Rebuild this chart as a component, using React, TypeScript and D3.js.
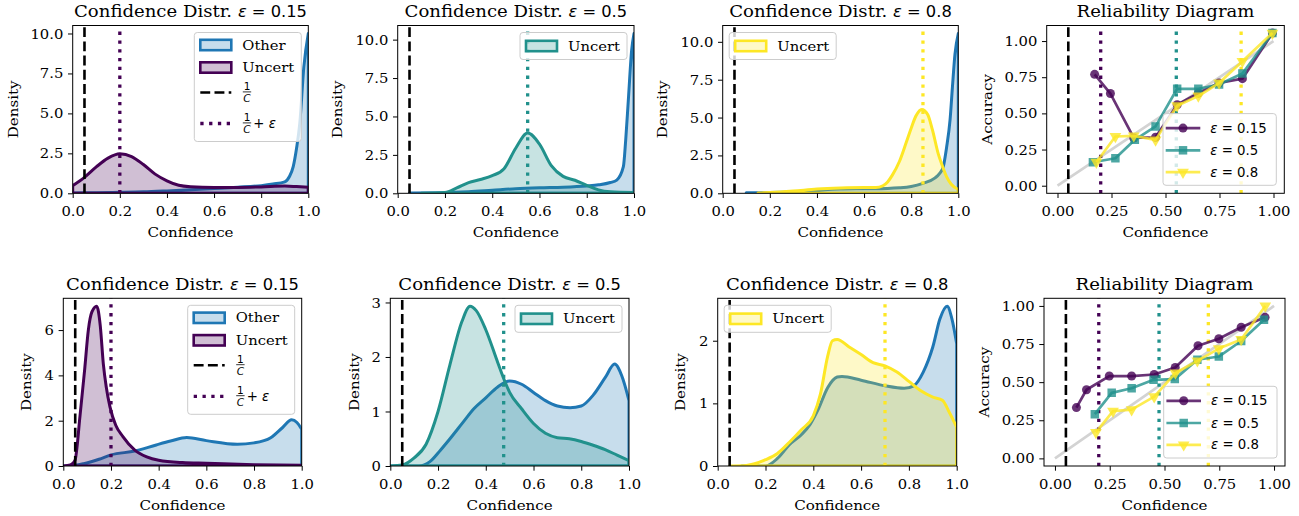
import React, { useEffect, useRef } from "react";
import * as d3 from "d3";

const SERIF = "'DejaVu Serif', serif";
const SANS = "'DejaVu Sans', sans-serif";
// the serif face here sets narrower than the reference's, so serif text is widened by this factor
const SERIF_WIDEN = 1.11;

const BLUE = "#1f77b4";
const EPS_COLORS = ["#440154", "#21918c", "#fde725"];
const epsLabels = ["0.15", "0.5", "0.8"];

const distTicks = [0, 0.2, 0.4, 0.6, 0.8, 1.0];
const relTicks = [0, 0.25, 0.5, 0.75, 1.0];
const topDensityTicks = [0, 2.5, 5, 7.5, 10];
const bottomDensityTicks = [[0, 2, 4, 6], [0, 1, 2, 3], [0, 1, 2]];

const oneOverC = 0.05;
const topThresholds = [0.2, 0.55, 0.85];
const bottomThresholds = [0.2, 0.475, 0.7];

// top row, eps = 0.15
const tOther015X = [0, 0.1, 0.2, 0.3, 0.4, 0.5, 0.6, 0.7, 0.8, 0.85, 0.9, 0.92, 0.936, 0.95, 0.964, 0.981, 1.0];
const tOther015Y = [0.02, 0.04, 0.06, 0.09, 0.15, 0.22, 0.3, 0.38, 0.48, 0.58, 0.72, 1.05, 1.67, 2.8, 4.4, 7.9, 10.0];
const tUnc015X = [0, 0.05, 0.1, 0.15, 0.2, 0.25, 0.3, 0.35, 0.4, 0.45, 0.5, 0.6, 0.7, 0.8, 0.9, 0.95, 1.0];
const tUnc015Y = [0.48, 1.0, 1.65, 2.2, 2.47, 2.3, 1.8, 1.2, 0.78, 0.5, 0.41, 0.37, 0.37, 0.4, 0.45, 0.42, 0.38];

// top row, eps = 0.5
const tOther05X = [0.05, 0.2, 0.3, 0.4, 0.5, 0.6, 0.7, 0.8, 0.85, 0.9, 0.927, 0.955, 0.965, 0.976, 0.99, 1.0];
const tOther05Y = [0.02, 0.04, 0.1, 0.2, 0.3, 0.36, 0.4, 0.48, 0.55, 0.7, 0.86, 1.73, 3.5, 6.06, 9.3, 10.4];
const tUnc05X = [0.1, 0.2, 0.25, 0.3, 0.35, 0.4, 0.45, 0.5, 0.55, 0.6, 0.65, 0.7, 0.75, 0.8, 0.85, 0.9, 1.0];
const tUnc05Y = [0.0, 0.05, 0.35, 0.7, 0.9, 1.15, 1.6, 2.95, 3.92, 3.2, 1.8, 1.1, 0.85, 0.52, 0.22, 0.1, 0.05];

// top row, eps = 0.8
const tOther08X = [0.1, 0.2, 0.3, 0.4, 0.5, 0.6, 0.7, 0.75, 0.8, 0.85, 0.9, 0.92, 0.936, 0.95, 0.965, 0.975, 0.986, 1.0];
const tOther08Y = [0.03, 0.05, 0.1, 0.2, 0.28, 0.3, 0.32, 0.36, 0.45, 0.66, 1.0, 1.3, 1.75, 3.0, 4.84, 7.0, 9.2, 10.55];
const tUnc08X = [0.15, 0.2, 0.3, 0.4, 0.5, 0.6, 0.65, 0.68, 0.7, 0.72, 0.75, 0.78, 0.8, 0.82, 0.845, 0.87, 0.89, 0.915, 0.935, 0.95, 0.97, 1.0];
const tUnc08Y = [0.02, 0.05, 0.15, 0.28, 0.35, 0.38, 0.38, 0.5, 0.75, 1.2, 2.1, 3.4, 4.3, 5.1, 5.54, 5.2, 4.2, 2.6, 1.7, 1.1, 0.6, 0.25];

// bottom row, eps = 0.15
const bOther015X = [0, 0.05, 0.085, 0.15, 0.2, 0.3, 0.39, 0.45, 0.518, 0.6, 0.73, 0.8, 0.87, 0.92, 0.958, 0.98, 1.0];
const bOther015Y = [0.0, 0.03, 0.1, 0.3, 0.49, 0.66, 0.93, 1.1, 1.26, 1.12, 0.96, 1.02, 1.25, 1.7, 2.04, 1.92, 1.62];
const bUnc015X = [0, 0.03, 0.049, 0.07, 0.09, 0.105, 0.12, 0.14, 0.155, 0.168, 0.18, 0.196, 0.22, 0.25, 0.3, 0.35, 0.4, 0.5, 0.6, 0.8, 1.0];
const bUnc015Y = [0.0, 0.05, 0.25, 2.2, 4.3, 6.0, 6.8, 7.05, 6.2, 4.5, 3.5, 2.6, 1.8, 1.3, 0.7, 0.4, 0.25, 0.15, 0.12, 0.06, 0.03];

// bottom row, eps = 0.5
const bOther05X = [0, 0.05, 0.12, 0.166, 0.21, 0.25, 0.306, 0.35, 0.4, 0.45, 0.5, 0.55, 0.6, 0.65, 0.7, 0.753, 0.8, 0.85, 0.9, 0.94, 0.97, 1.0];
const bOther05Y = [0.0, 0.0, 0.0, 0.08, 0.29, 0.5, 0.81, 1.05, 1.25, 1.45, 1.56, 1.5, 1.35, 1.2, 1.1, 1.07, 1.1, 1.3, 1.62, 1.87, 1.65, 1.2];
const bUnc05X = [0, 0.05, 0.1, 0.15, 0.2, 0.25, 0.3, 0.334, 0.36, 0.4, 0.45, 0.48, 0.5, 0.55, 0.6, 0.65, 0.7, 0.75, 0.8, 0.85, 0.9, 0.95, 1.0];
const bUnc05Y = [0.0, 0.02, 0.15, 0.4, 1.0, 1.86, 2.65, 2.93, 2.85, 2.5, 1.9, 1.55, 1.35, 1.05, 0.78, 0.6, 0.52, 0.5, 0.45, 0.38, 0.3, 0.2, 0.1];

// bottom row, eps = 0.8
const bOther08X = [0.1, 0.2, 0.25, 0.3, 0.35, 0.386, 0.42, 0.46, 0.5, 0.52, 0.6, 0.7, 0.78, 0.82, 0.86, 0.9, 0.93, 0.96, 0.98, 1.0];
const bOther08Y = [0.0, 0.0, 0.12, 0.34, 0.5, 0.66, 0.9, 1.25, 1.42, 1.43, 1.37, 1.28, 1.24, 1.28, 1.5, 1.9, 2.35, 2.55, 2.35, 1.95];
const bUnc08X = [0.05, 0.12, 0.2, 0.25, 0.3, 0.35, 0.4, 0.43, 0.46, 0.48, 0.5, 0.55, 0.6, 0.65, 0.7, 0.75, 0.8, 0.85, 0.9, 0.94, 0.97, 1.0];
const bUnc08Y = [0.0, 0.01, 0.1, 0.2, 0.38, 0.58, 0.8, 1.15, 1.75, 2.0, 2.02, 1.9, 1.78, 1.65, 1.6, 1.5, 1.35, 1.2, 1.1, 1.05, 0.85, 0.62];

// reliability diagram, top row
const relTopConf015 = [0.172, 0.245, 0.353, 0.454, 0.554, 0.652, 0.748, 0.856, 0.995];
const relTopAcc015 = [0.77, 0.637, 0.33, 0.335, 0.56, 0.64, 0.71, 0.74, 1.055];
const relTopConf05 = [0.164, 0.268, 0.358, 0.454, 0.554, 0.652, 0.748, 0.856, 0.995];
const relTopAcc05 = [0.162, 0.19, 0.317, 0.41, 0.67, 0.67, 0.7, 0.776, 1.055];
const relTopConf08 = [0.18, 0.268, 0.353, 0.454, 0.554, 0.652, 0.748, 0.856, 0.995];
const relTopAcc08 = [0.162, 0.34, 0.345, 0.317, 0.553, 0.62, 0.71, 0.86, 1.055];

// reliability diagram, bottom row
const relBotConf015 = [0.098, 0.144, 0.248, 0.35, 0.453, 0.549, 0.653, 0.748, 0.85, 0.959];
const relBotAcc015 = [0.333, 0.45, 0.54, 0.54, 0.55, 0.596, 0.739, 0.785, 0.86, 0.925];
const relBotConf05 = [0.182, 0.259, 0.35, 0.45, 0.547, 0.65, 0.748, 0.85, 0.954];
const relBotAcc05 = [0.29, 0.43, 0.46, 0.515, 0.52, 0.647, 0.668, 0.77, 0.91];
const relBotConf08 = [0.187, 0.265, 0.35, 0.453, 0.55, 0.65, 0.748, 0.85, 0.96];
const relBotAcc08 = [0.17, 0.31, 0.32, 0.405, 0.56, 0.64, 0.72, 0.78, 1.0];

const kdeRows = [
  [
    { ox: tOther015X, oy: tOther015Y, ux: tUnc015X, uy: tUnc015Y },
    { ox: tOther05X, oy: tOther05Y, ux: tUnc05X, uy: tUnc05Y },
    { ox: tOther08X, oy: tOther08Y, ux: tUnc08X, uy: tUnc08Y },
  ],
  [
    { ox: bOther015X, oy: bOther015Y, ux: bUnc015X, uy: bUnc015Y },
    { ox: bOther05X, oy: bOther05Y, ux: bUnc05X, uy: bUnc05Y },
    { ox: bOther08X, oy: bOther08Y, ux: bUnc08X, uy: bUnc08Y },
  ],
];
const relRows = [
  [[relTopConf015, relTopAcc015], [relTopConf05, relTopAcc05], [relTopConf08, relTopAcc08]],
  [[relBotConf015, relBotAcc015], [relBotConf05, relBotAcc05], [relBotConf08, relBotAcc08]],
];

// layout (pixels)
const rowTop = [25.5, 298.3];
const rowBottom = [193.3, 466];
const frameLeft = [[72.7, 397.7, 722.7, 1046.7], [63.3, 390.3, 717.7, 1044]];
const frameRight = [[308.3, 634, 958.3, 1284.3], [301.7, 629, 956.7, 1285]];
const yLabelX = [[15, 339, 664, 989], [27.5, 356, 682, 986]];

const TICK = 13.3;
const LABEL = 13.6;
const TITLE = 16.3;
const LEG = 13.3;

function App() {
  const ref = useRef<SVGSVGElement>(null);

  useEffect(() => {
    drawChart();
  }, []);

  function drawChart() {
    const svg = d3.select(ref.current);
    svg.selectAll("*").remove();
    svg.append("rect").attr("width", 1299).attr("height", 516).attr("fill", "white");

    function axes(g, x, y, xt, yt, xf, yf, r, c) {
      const top = rowTop[r], bottom = rowBottom[r], left = frameLeft[r][c], right = frameRight[r][c];
      const ax = g.append("g").attr("transform", `translate(0,${bottom})`)
        .call(d3.axisBottom(x).tickValues(xt).tickFormat(xf).tickSize(4.7).tickSizeOuter(0).tickPadding(4.7));
      const ay = g.append("g").attr("transform", `translate(${left},0)`)
        .call(d3.axisLeft(y).tickValues(yt).tickFormat(yf).tickSize(4.7).tickSizeOuter(0).tickPadding(4.7));
      [ax, ay].forEach((a) => {
        a.select(".domain").remove();
        a.selectAll("line").attr("stroke", "#000").attr("stroke-width", 1);
        a.selectAll("text").attr("font-family", SERIF).attr("font-size", TICK).attr("fill", "#000")
          .classed("serif", true);
      });
      ax.selectAll("text").attr("dy", "1em");
      ay.selectAll("text").attr("dy", "0.34em");
      g.append("rect").attr("x", left).attr("y", top).attr("width", right - left).attr("height", bottom - top)
        .attr("fill", "none").attr("stroke", "#000").attr("stroke-width", 1);
    }

    function serifText(sel) {
      return sel.attr("font-family", SERIF).classed("serif", true);
    }

    function labels(g, r, c, yl, title) {
      const top = rowTop[r], bottom = rowBottom[r], left = frameLeft[r][c], right = frameRight[r][c];
      const cx = (left + right) / 2;
      serifText(g.append("text").attr("x", cx).attr("y", bottom + 43.5).attr("text-anchor", "middle"))
        .attr("font-size", LABEL).text("Confidence");
      serifText(g.append("text").attr("transform", `translate(${yLabelX[r][c]},${(top + bottom) / 2}) rotate(-90)`)
        .attr("dy", "0.25em").attr("text-anchor", "middle"))
        .attr("font-size", LABEL).text(yl);

      const ty = top - 8.5;
      if (title) {
        const ts = g.append("text").attr("y", ty).attr("font-family", SERIF).attr("font-size", TITLE)
          .style("white-space", "pre").text("Confidence Distr. ");
        const tm = g.append("text").attr("y", ty).attr("font-family", SANS).attr("font-size", TITLE)
          .style("white-space", "pre");
        tm.append("tspan").attr("font-style", "italic").text("ε");
        tm.append("tspan").text(" = " + title);
        const ws = (ts.node() as SVGTextElement).getComputedTextLength() * SERIF_WIDEN;
        const wm = (tm.node() as SVGTextElement).getComputedTextLength();
        const x0 = cx - (ws + wm) / 2;
        ts.attr("x", x0).attr("textLength", ws).attr("lengthAdjust", "spacingAndGlyphs");
        tm.attr("x", x0 + ws);
      } else {
        serifText(g.append("text").attr("x", cx).attr("y", ty).attr("text-anchor", "middle"))
          .attr("font-size", TITLE).text("Reliability Diagram");
      }
    }

    function clip(g, id, r, c) {
      g.append("clipPath").attr("id", id).append("rect")
        .attr("x", frameLeft[r][c]).attr("y", rowTop[r])
        .attr("width", frameRight[r][c] - frameLeft[r][c]).attr("height", rowBottom[r] - rowTop[r]);
      return g.append("g").attr("clip-path", `url(#${id})`);
    }

    function vline(g, xv, y0, y1, color, dotted) {
      g.append("line").attr("x1", xv).attr("x2", xv).attr("y1", y0).attr("y2", y1)
        .attr("stroke", color)
        .attr("stroke-width", dotted ? 3.3 : 2.6)
        .attr("stroke-dasharray", dotted ? "3.3,5.5" : "9.9,4.3");
    }

    function legendBox(g, x, y, w, h) {
      g.append("rect").attr("x", x).attr("y", y).attr("width", w).attr("height", h).attr("rx", 3)
        .attr("fill", "white").attr("fill-opacity", 0.8).attr("stroke", "#cccccc").attr("stroke-width", 1);
    }

    function patchEntry(g, bx, ry, color, label) {
      g.append("rect").attr("x", bx + 6).attr("y", ry - 5.2).attr("width", 31).attr("height", 10.4)
        .attr("fill", color).attr("fill-opacity", 0.25).attr("stroke", color).attr("stroke-width", 2.6);
      serifText(g.append("text").attr("x", bx + 48).attr("y", ry).attr("dy", "0.35em"))
        .attr("font-size", LEG).text(label);
    }

    function fraction(g, fx, ry) {
      g.append("text").attr("x", fx + 4.2).attr("y", ry - 2.3).attr("text-anchor", "middle")
        .attr("font-family", SANS).attr("font-size", 10.5).text("1");
      g.append("line").attr("x1", fx).attr("x2", fx + 8.4).attr("y1", ry - 0.6).attr("y2", ry - 0.6)
        .attr("stroke", "#000").attr("stroke-width", 0.8);
      g.append("text").attr("x", fx + 4.2).attr("y", ry + 9.6).attr("text-anchor", "middle")
        .attr("font-family", SANS).attr("font-style", "italic").attr("font-size", 10.5).text("C");
    }

    // density panels
    kdeRows.forEach((row, r) => {
      row.forEach((p, c) => {
        const g = svg.append("g");
        const color = EPS_COLORS[c];
        const thr = (r === 0 ? topThresholds : bottomThresholds)[c];
        const ymax = 1.05 * (d3.max(p.oy.concat(p.uy)) as number);
        const x = d3.scaleLinear().domain([0, 1]).range([frameLeft[r][c], frameRight[r][c]]);
        const y = d3.scaleLinear().domain([0, ymax]).range([rowBottom[r], rowTop[r]]);
        const area = d3.area<[number, number]>()
          .x((d) => x(d[0])).y0(y(0)).y1((d) => y(d[1])).curve(d3.curveMonotoneX);

        const inner = clip(g, `clip-k-${r}-${c}`, r, c);
        const other = p.ox.map((v, i) => [v, p.oy[i]] as [number, number]);
        const unc = p.ux.map((v, i) => [v, p.uy[i]] as [number, number]);
        inner.append("path").attr("d", area(other)).attr("fill", BLUE).attr("fill-opacity", 0.25)
          .attr("stroke", BLUE).attr("stroke-width", 3).attr("stroke-linejoin", "round");
        inner.append("path").attr("d", area(unc)).attr("fill", color).attr("fill-opacity", 0.25)
          .attr("stroke", color).attr("stroke-width", 3).attr("stroke-linejoin", "round");
        vline(inner, x(oneOverC), rowBottom[r], rowTop[r], "#000", false);
        vline(inner, x(thr), rowBottom[r], rowTop[r], color, true);

        const yt = r === 0 ? topDensityTicks : bottomDensityTicks[c];
        const yf = r === 0 ? d3.format(".1f") : d3.format("d");
        axes(g, x, y, distTicks, yt, d3.format(".1f"), yf, r, c);
        labels(g, r, c, "Density", epsLabels[c]);

        // legend
        const top = rowTop[r] + 7;
        if (c === 0) {
          const bx = frameRight[r][c] - 7 - 107;
          legendBox(g, bx, top, 107, 109);
          patchEntry(g, bx, top + 12.5, BLUE, "Other");
          patchEntry(g, bx, top + 35, color, "Uncert");
          g.append("line").attr("x1", bx + 6).attr("x2", bx + 37).attr("y1", top + 60).attr("y2", top + 60)
            .attr("stroke", "#000").attr("stroke-width", 2.6).attr("stroke-dasharray", "9.9,4.3");
          fraction(g, bx + 48.5, top + 60);
          g.append("line").attr("x1", bx + 6).attr("x2", bx + 37).attr("y1", top + 91).attr("y2", top + 91)
            .attr("stroke", color).attr("stroke-width", 3.3).attr("stroke-dasharray", "3.3,5.5");
          fraction(g, bx + 48.5, top + 91);
          const pe = g.append("text").attr("x", bx + 59).attr("y", top + 91).attr("dy", "0.35em")
            .attr("font-family", SANS).attr("font-size", LEG).style("white-space", "pre");
          pe.append("tspan").text("+ ");
          pe.append("tspan").attr("font-style", "italic").text("ε");
        } else {
          const bx = c === 1 ? frameRight[r][c] - 7 - 107 : frameLeft[r][c] + 6.5;
          legendBox(g, bx, top, 107, 27);
          patchEntry(g, bx, top + 13.5, color, "Uncert");
        }
      });
    });

    // reliability panels
    const symbols = [d3.symbolCircle, d3.symbolSquare, d3.symbolTriangle];
    const symSize = [64, 72, 60];
    relRows.forEach((series, r) => {
      const c = 3;
      const g = svg.append("g");
      const x = d3.scaleLinear().domain([-0.05, 1.05]).range([frameLeft[r][c], frameRight[r][c]]);
      const yDom = r === 0 ? [-0.0525, 1.1075] : [-0.05, 1.05];
      const y = d3.scaleLinear().domain(yDom).range([rowBottom[r], rowTop[r]]);
      const thr = r === 0 ? topThresholds : bottomThresholds;
      const inner = clip(g, `clip-r-${r}`, r, c);
      const line = d3.line<[number, number]>().x((d) => x(d[0])).y((d) => y(d[1]));
      inner.append("path").attr("d", line([[0, 0], [1, 1]])).attr("stroke", "#d3d3d3")
        .attr("stroke-width", 2.7).attr("fill", "none");
      vline(inner, x(oneOverC), rowBottom[r], rowTop[r], "#000", false);
      thr.forEach((t, i) => vline(inner, x(t), rowBottom[r], rowTop[r], EPS_COLORS[i], true));
      series.forEach(([cf, ac], i) => {
        const pts = cf.map((v, k) => [v, ac[k]] as [number, number]);
        inner.append("path").attr("d", line(pts)).attr("fill", "none").attr("stroke", EPS_COLORS[i])
          .attr("stroke-opacity", 0.8).attr("stroke-width", 2.7).attr("stroke-linejoin", "round");
        inner.selectAll(null).data(pts).enter().append("path")
          .attr("d", d3.symbol().type(symbols[i]).size(symSize[i]))
          .attr("transform", (d) => `translate(${x(d[0])},${y(d[1])})${i === 2 ? " rotate(180)" : ""}`)
          .attr("fill", EPS_COLORS[i]).attr("fill-opacity", 0.8);
      });
      axes(g, x, y, relTicks, relTicks, d3.format(".2f"), d3.format(".2f"), r, c);
      labels(g, r, c, "Accuracy", null);

      const bw = 113.3, bh = 71.7;
      const bx = frameRight[r][c] - 8 - bw;
      const by = rowBottom[r] - 8 - bh;
      legendBox(g, bx, by, bw, bh);
      [14.5, 36.7, 58.5].forEach((dy, i) => {
        const ry = by + dy;
        g.append("line").attr("x1", bx + 2.7).attr("x2", bx + 37.3).attr("y1", ry).attr("y2", ry)
          .attr("stroke", EPS_COLORS[i]).attr("stroke-opacity", 0.8).attr("stroke-width", 2.7);
        g.append("path").attr("d", d3.symbol().type(symbols[i]).size(symSize[i]))
          .attr("transform", `translate(${bx + 20},${ry})${i === 2 ? " rotate(180)" : ""}`)
          .attr("fill", EPS_COLORS[i]).attr("fill-opacity", 0.8);
        const t = g.append("text").attr("x", bx + 47.3).attr("y", ry).attr("dy", "0.35em")
          .attr("font-family", SANS).attr("font-size", LEG).style("white-space", "pre");
        t.append("tspan").attr("font-style", "italic").text("ε");
        t.append("tspan").text(" = " + epsLabels[i]);
      });
    });

    // widen the serif text to the reference's set width
    svg.selectAll("text.serif").each(function () {
      const el = this as SVGTextElement;
      const w = el.getComputedTextLength();
      el.setAttribute("textLength", String(w * SERIF_WIDEN));
      el.setAttribute("lengthAdjust", "spacingAndGlyphs");
    });
  }

  return (
    <svg ref={ref} width={1299} height={516}
      style={{ position: "absolute", left: 0, top: 0, display: "block" }} />
  );
}

export default App;
